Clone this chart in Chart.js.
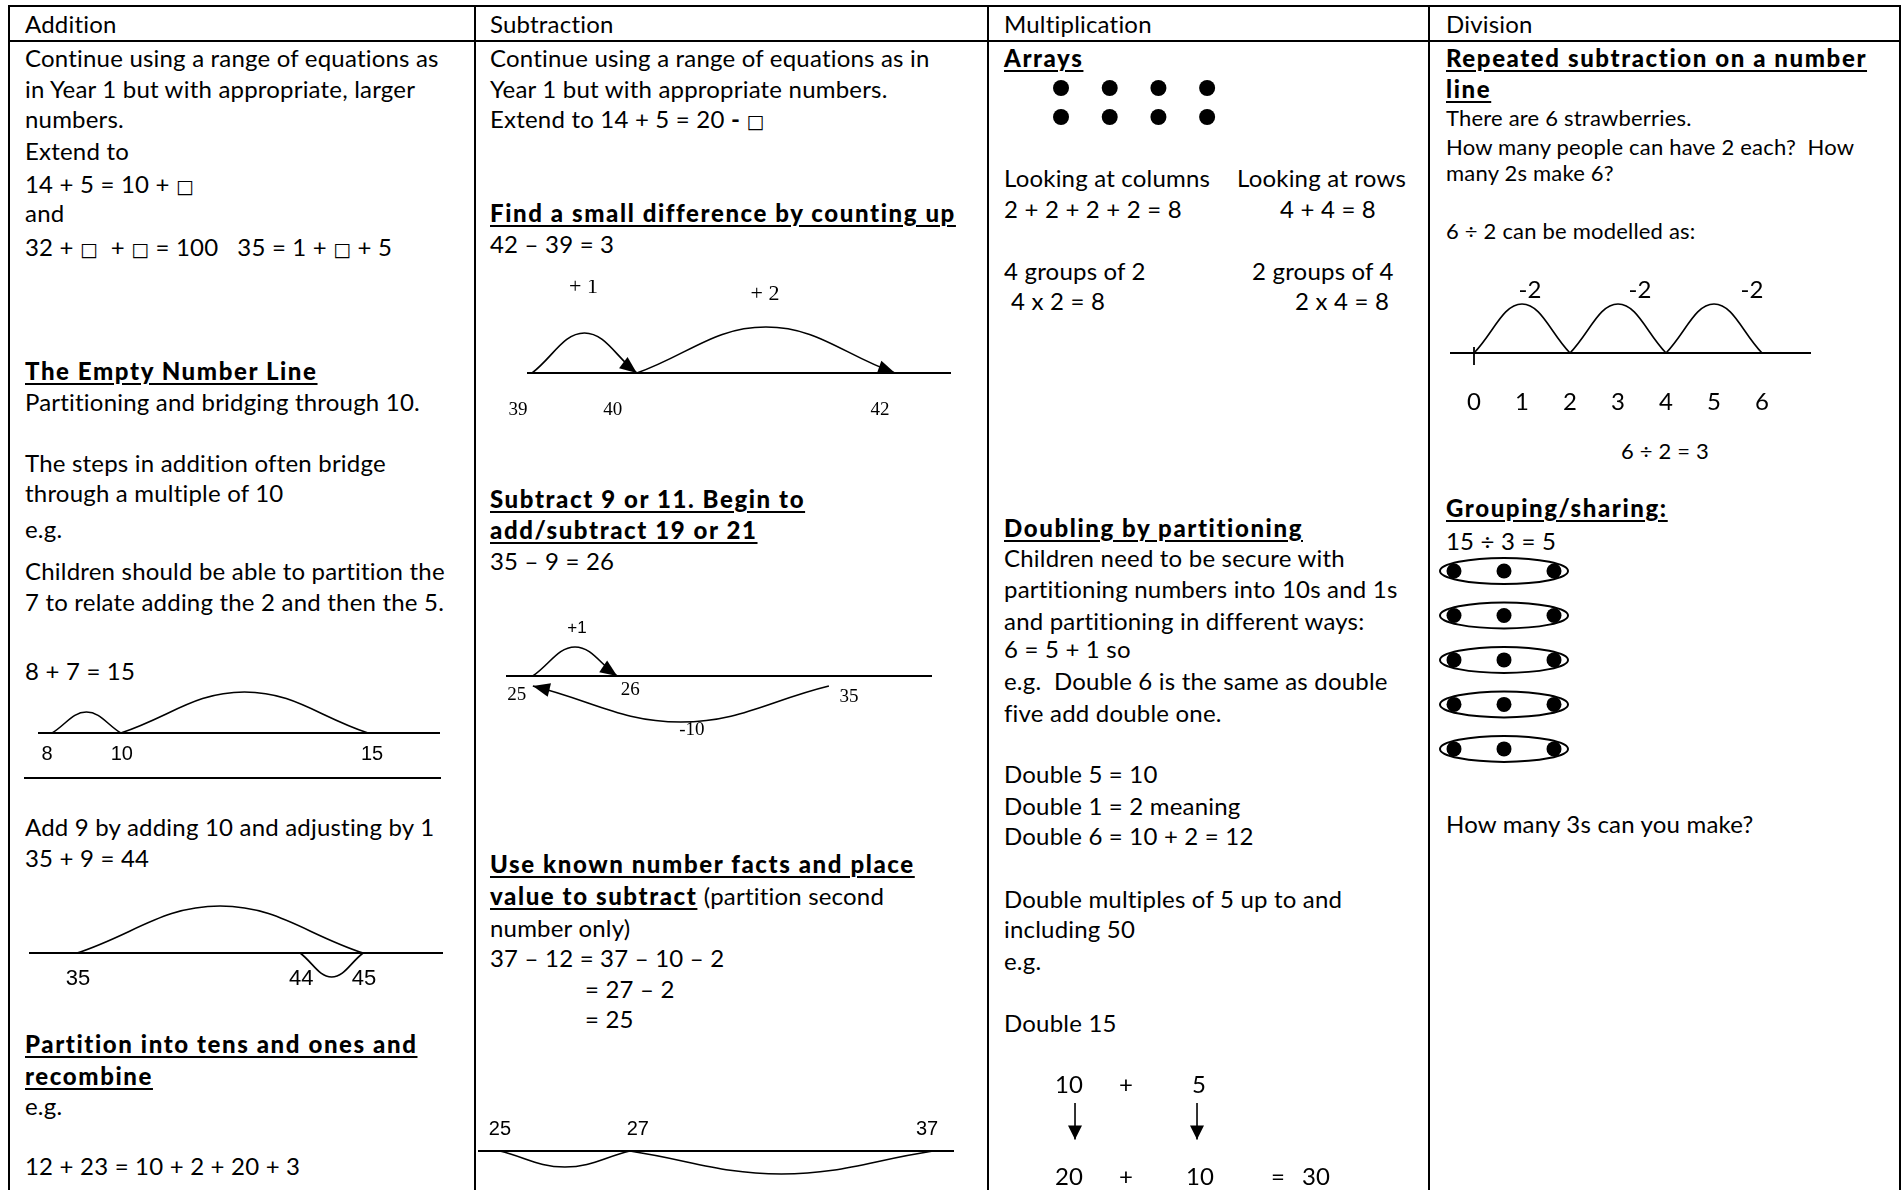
<!DOCTYPE html>
<html>
<head>
<meta charset="utf-8">
<title>Calculation methods</title>
<script src="https://cdn.jsdelivr.net/npm/chart.js@4.4.1/dist/chart.umd.min.js"></script>
<style>
  body { margin: 0; background: #fff; }
  #page { position: relative; width: 1903px; height: 1190px; overflow: hidden; font-family: Lato, "Noto Sans", sans-serif; color: #000; }
  .t { position: absolute; white-space: pre; font-size: 24px; line-height: 24px; letter-spacing: 0.2px; }
  .s { font-size: 22px; line-height: 22px; }
  .b { font-weight: 900; letter-spacing: 1.6px; text-decoration: underline; text-decoration-thickness: 2px; text-underline-offset: 3px; }
  .c { transform: translateX(-50%); }
  .sq { font-family: "DejaVu Sans", sans-serif; font-size: 19px; line-height: 0; letter-spacing: 0; }
  .rule { position: absolute; background: #000; }
  .box { position: absolute; }
</style>
</head>
<body>
<div id="page"></div>
<script>
// =========================
// DATA
// =========================
// addition
const addMarksA = [8, 10, 15];
const addJumpsA = [[8, 10], [10, 15]];
const addMarksB = [35, 44, 45];
const addJumpsB = [[35, 45], [45, 44]];

// subtraction
const subMarksA = [39, 40, 42];
const subJumpsA = [[39, 40], [40, 42]];
const subJumpTextA = ["+ 1", "+ 2"];
const subMarksB = [25, 26, 35];
const subJumpsB = [[25, 26], [35, 25]];
const subJumpTextB = ["+1", "-10"];
const subMarksC = [25, 27, 37];
const subJumpsC = [[37, 27], [27, 25]];

// multiplication
const arrayCols = [1, 2, 3, 4];
const arrayRows = [1, 2];
const doubleParts = [10, 5];
const doubledParts = [20, 10];
const doubleTotal = 30;

// division
const divMarks = [0, 1, 2, 3, 4, 5, 6];
const divJumps = [[6, 4], [4, 2], [2, 0]];
const divJumpText = ["-2", "-2", "-2"];
const shareGroups = [1, 2, 3, 4, 5];
const shareDots = [1, 2, 3];

// =========================
// PAGE TEXT
// =========================
const page = document.getElementById("page");
const SQ = '<span class="sq">□</span>';

function put(x, y, html, cls) {
  const el = document.createElement("div");
  el.className = "t" + (cls ? " " + cls : "");
  page.appendChild(el);
  el.innerHTML = html;
  const size = parseFloat(getComputedStyle(el).fontSize);
  el.style.left = x + "px";
  el.style.top = (y - size * 0.887) + "px";
}

function rule(x, y, w, h) {
  const el = document.createElement("div");
  el.className = "rule";
  el.style.cssText = `left:${x}px;top:${y}px;width:${w}px;height:${h}px`;
  page.appendChild(el);
}

// table frame
rule(8, 5, 1893, 2);
rule(8, 40, 1893, 2);
[8, 474, 987, 1428, 1899].forEach(x => rule(x, 5, 2, 1190));

put(25, 33, "Addition");
put(490, 33, "Subtraction");
put(1004, 33, "Multiplication");
put(1446, 33, "Division");

// addition
[
  [67, "Continue using a range of equations as"],
  [98, "in Year 1 but with appropriate, larger"],
  [128, "numbers."],
  [160, "Extend to"],
  [193, "14 + 5 = 10 + " + SQ],
  [222, "and"],
  [256, "32 + " + SQ + "  + " + SQ + " = 100   35 = 1 + " + SQ + " + 5"],
  [380, "The Empty Number Line", "b"],
  [411, "Partitioning and bridging through 10."],
  [472, "The steps in addition often bridge"],
  [502, "through a multiple of 10"],
  [538, "e.g."],
  [580, "Children should be able to partition the"],
  [611, "7 to relate adding the 2 and then the 5."],
  [680, "8 + 7 = 15"],
  [836, "Add 9 by adding 10 and adjusting by 1"],
  [867, "35 + 9 = 44"],
  [1053, "Partition into tens and ones and", "b"],
  [1085, "recombine", "b"],
  [1115, "e.g."],
  [1175, "12 + 23 = 10 + 2 + 20 + 3"]
].forEach(r => put(25, r[0], r[1], r[2]));
rule(24, 777, 417, 2);

// subtraction
[
  [67, "Continue using a range of equations as in"],
  [98, "Year 1 but with appropriate numbers."],
  [128, "Extend to 14 + 5 = 20 <b>-</b> " + SQ],
  [222, "Find a small difference by counting up", "b"],
  [253, "42 – 39 = 3"],
  [508, "Subtract 9 or 11. Begin to", "b"],
  [539, "add/subtract 19 or 21", "b"],
  [570, "35 – 9 = 26"],
  [873, "Use known number facts and place", "b"],
  [905, '<span class="b">value to subtract</span> (partition second'],
  [937, "number only)"],
  [967, "37 – 12 = 37 – 10 – 2"]
].forEach(r => put(490, r[0], r[1], r[2]));
put(585, 998, "= 27 – 2");
put(585, 1028, "= 25");

// multiplication
[
  [67, "Arrays", "b"],
  [187, "Looking at columns"],
  [218, "2 + 2 + 2 + 2 = 8"],
  [280, "4 groups of 2"],
  [537, "Doubling by partitioning", "b"],
  [567, "Children need to be secure with"],
  [598, "partitioning numbers into 10s and 1s"],
  [630, "and partitioning in different ways:"],
  [658, "6 = 5 + 1 so"],
  [690, "e.g.  Double 6 is the same as double"],
  [722, "five add double one."],
  [783, "Double 5 = 10"],
  [815, "Double 1 = 2 meaning"],
  [845, "Double 6 = 10 + 2 = 12"],
  [908, "Double multiples of 5 up to and"],
  [938, "including 50"],
  [970, "e.g."],
  [1032, "Double 15"]
].forEach(r => put(1004, r[0], r[1], r[2]));
put(1237, 187, "Looking at rows");
put(1280, 218, "4 + 4 = 8");
put(1252, 280, "2 groups of 4");
put(1011, 310, "4 x 2 = 8");
put(1295, 310, "2 x 4 = 8");

// division
[
  [67, "Repeated subtraction on a number", "b"],
  [98, "line", "b"],
  [127, "There are 6 strawberries.", "s"],
  [156, "How many people can have 2 each?  How", "s"],
  [182, "many 2s make 6?", "s"],
  [240, "6 ÷ 2 can be modelled as:", "s"],
  [517, "Grouping/sharing:", "b"],
  [550, "15 ÷ 3 = 5"],
  [833, "How many 3s can you make?"]
].forEach(r => put(1446, r[0], r[1], r[2]));
put(1665, 460, "6 ÷ 2 = 3", "s c");

// =========================
// SKETCH SCALE (empty number lines are not drawn to scale)
// =========================
function fracOf(a, v) {
  let i = 1;
  while (i < a.length - 1 && v > a[i][0]) i++;
  return a[i - 1][1] + (v - a[i - 1][0]) * (a[i][1] - a[i - 1][1]) / (a[i][0] - a[i - 1][0]);
}
function valOf(a, f) {
  let i = 1;
  while (i < a.length - 1 && f > a[i][1]) i++;
  return a[i - 1][0] + (f - a[i - 1][1]) * (a[i][0] - a[i - 1][0]) / (a[i][1] - a[i - 1][1]);
}
function midOf(a, p, q) {
  return valOf(a, (fracOf(a, p) + fracOf(a, q)) / 2);
}

const LinearScale = Chart.LinearScale || Chart.registry.getScale("linear");
class SketchScale extends LinearScale {
  getPixelForValue(value) {
    return this.getPixelForDecimal(fracOf(this.options.anchors, value));
  }
}
SketchScale.id = "sketch";
SketchScale.defaults = {};
Chart.register(SketchScale);

// =========================
// HELPERS
// =========================
const INK = "#000";
const SERIF = '"Liberation Serif", "DejaVu Serif", serif';
const SANS = '"Liberation Sans", Arial, sans-serif';
const GILL = 'Lato, "Noto Sans", sans-serif';
const PAD = 30;

function straight(a, y) {
  return {
    type: "line",
    data: [{ x: a[0][0], y: y || 0 }, { x: a[a.length - 1][0], y: y || 0 }],
    borderColor: INK, borderWidth: 1.8, pointRadius: 0, clip: false
  };
}

function arc(a, jump, lift, opt) {
  opt = opt || {};
  const end = opt.end || 0;
  return {
    type: "line",
    data: [{ x: jump[0], y: end }, { x: midOf(a, jump[0], jump[1]), y: lift }, { x: jump[1], y: end }],
    borderColor: INK, borderWidth: 1.6, tension: 0.4, clip: false,
    pointRadius: 0,
    arrow: !!opt.arrow
  };
}

// filled arrowhead at the end of a jump, along the curve's end tangent
const arrowHeads = {
  id: "arrowHeads",
  afterDatasetsDraw(chart) {
    const { ctx } = chart;
    ctx.save();
    ctx.fillStyle = INK;
    chart.data.datasets.forEach((ds, i) => {
      if (!ds.arrow) return;
      const pts = chart.getDatasetMeta(i).data;
      const end = pts[pts.length - 1], prev = pts[pts.length - 2];
      const fx = end.cp1x != null ? end.cp1x : prev.x;
      const fy = end.cp1y != null ? end.cp1y : prev.y;
      const ang = Math.atan2(end.y - fy, end.x - fx);
      const len = ds.headLength || 17, half = ds.headWidth || 7;
      ctx.beginPath();
      ctx.moveTo(end.x, end.y);
      ctx.lineTo(end.x - len * Math.cos(ang) + half * Math.sin(ang), end.y - len * Math.sin(ang) - half * Math.cos(ang));
      ctx.lineTo(end.x - len * Math.cos(ang) - half * Math.sin(ang), end.y - len * Math.sin(ang) + half * Math.cos(ang));
      ctx.closePath();
      ctx.fill();
    });
    ctx.restore();
  }
};

function textPlugin(items) {
  return {
    id: "sketchText",
    afterDatasetsDraw(chart) {
      const { ctx } = chart;
      const x = chart.scales.x, y = chart.scales.y;
      ctx.save();
      ctx.fillStyle = INK;
      ctx.textAlign = "center";
      ctx.textBaseline = "alphabetic";
      items.forEach(it => {
        ctx.font = it.font;
        ctx.fillText(it.text, x.getPixelForValue(it.x) + (it.dx || 0), y.getPixelForValue(it.y));
      });
      ctx.restore();
    }
  };
}

function sketch(box, anchors, yRange, datasets, texts, extra) {
  const wrap = document.createElement("div");
  wrap.className = "box";
  wrap.style.cssText = `left:${box[0] - PAD}px;top:${box[1]}px;width:${box[2] + 2 * PAD}px;height:${box[3]}px`;
  const canvas = document.createElement("canvas");
  canvas.width = box[2] + 2 * PAD;
  canvas.height = box[3];
  wrap.appendChild(canvas);
  page.appendChild(wrap);

  return new Chart(canvas, {
    type: "scatter",
    data: { datasets: datasets },
    options: {
      responsive: false,
      animation: false,
      events: [],
      layout: { autoPadding: false, padding: { left: PAD, right: PAD, top: 0, bottom: 0 } },
      plugins: { legend: { display: false }, tooltip: { enabled: false } },
      scales: {
        x: { type: "sketch", anchors: anchors, min: anchors[0][0], max: anchors[anchors.length - 1][0], display: false },
        y: { type: "linear", min: yRange[0], max: yRange[1], reverse: !!yRange[2], display: false }
      }
    },
    plugins: [arrowHeads, textPlugin(texts || [])].concat(extra || [])
  });
}

function markTexts(marks, y, font, dx) {
  return marks.map((m, i) => ({ text: String(m), x: m, y: Array.isArray(y) ? y[i] : y, font: font, dx: dx ? dx[i] : 0 }));
}

function jumpTexts(a, jumps, labels, y, font, dx) {
  return jumps.map((j, i) => ({
    text: labels[i], x: midOf(a, j[0], j[1]),
    y: Array.isArray(y) ? y[i] : y,
    font: Array.isArray(font) ? font[i] : font,
    dx: dx ? dx[i] : 0
  }));
}

// =========================
// ADDITION NUMBER LINES
// =========================
const addAxisA = [[7.6, 0], [8, 0.035], [10, 0.206], [15, 0.821], [16.5, 1]];
sketch([38, 680, 402, 100], addAxisA, [-47, 53], [
  straight(addAxisA),
  arc(addAxisA, addJumpsA[0], 21),
  arc(addAxisA, addJumpsA[1], 41)
], markTexts(addMarksA, -27, "20px " + SANS, [-5, 1, 4]));

const addAxisB = [[33.06, 0], [35, 0.116], [44, 0.655], [45, 0.807], [46.27, 1]];
sketch([29, 895, 414, 105], addAxisB, [-47, 58], [
  straight(addAxisB),
  arc(addAxisB, addJumpsB[0], 47),
  arc(addAxisB, addJumpsB[1], -24)
], markTexts(addMarksB, -32, "22px " + SANS, [1, 1, 1]));

// =========================
// SUBTRACTION NUMBER LINES
// =========================
const subAxisA = [[38.95, 0], [39, 0.012], [40, 0.259], [42, 0.868], [42.43, 1]];
sketch([527, 280, 424, 145], subAxisA, [-52, 93], [
  straight(subAxisA),
  arc(subAxisA, subJumpsA[0], 40, { arrow: true }),
  arc(subAxisA, subJumpsA[1], 46, { arrow: true })
], markTexts(subMarksA, -42, "19px " + SERIF, [-14, -24, -15])
  .concat(jumpTexts(subAxisA, subJumpsA, subJumpTextA, [80, 73], "22px " + SERIF, [-1, -1])));

const subAxisB = [[24.68, 0], [25, 0.063], [26, 0.261], [35, 0.758], [39.4, 1]];
sketch([506, 620, 426, 125], subAxisB, [-69, 56], [
  straight(subAxisB),
  arc(subAxisB, subJumpsB[0], 29, { arrow: true }),
  arc(subAxisB, subJumpsB[1], -46, { arrow: true, end: -10 })
], markTexts(subMarksB, [-24, -19, -26], "19px " + SERIF, [-16, 13, 20])
  .concat(jumpTexts(subAxisB, subJumpsB, subJumpTextB, [43, -59], ["17px " + SANS, "19px " + SERIF], [2, 11])));

const subAxisC = [[24.66, 0], [25, 0.046], [27, 0.319], [37, 0.956], [37.7, 1]];
sketch([478, 1110, 476, 80], subAxisC, [-39, 41], [
  straight(subAxisC),
  arc(subAxisC, subJumpsC[0], -23),
  arc(subAxisC, subJumpsC[1], -16)
], markTexts(subMarksC, 16, "20px " + SANS, [0, 8, -6]));

// =========================
// MULTIPLICATION
// =========================
const arrayAxis = [[0.363, 0], [4.675, 1]];
sketch([1030, 70, 210, 65], arrayAxis, [0.38, 2.62], [{
  data: arrayRows.flatMap(r => arrayCols.map(c => ({ x: c, y: r }))),
  pointRadius: 8, pointBackgroundColor: INK, pointBorderWidth: 0, clip: false
}]);

const doubleAxis = [[-0.287, 0], [2.172, 1]];
sketch([1040, 1060, 300, 130], doubleAxis, [-2.107, 2.536],
  doubleParts.map((p, i) => ({
    type: "line",
    data: [{ x: i, y: 1 }, { x: i, y: -0.3 }],
    borderColor: INK, borderWidth: 1.6, clip: false, pointRadius: 0,
    arrow: true, headLength: 14, headWidth: 7
  })),
  doubleParts.map((p, i) => ({ text: String(p), x: i, y: 1.357, font: "24px " + GILL, dx: i ? 2 : -6 }))
    .concat(doubledParts.map((p, i) => ({ text: String(p), x: i, y: -1.93, font: "24px " + GILL, dx: i ? 3 : -6 })))
    .concat([
      { text: "+", x: 0.418, y: 1.357, font: "24px " + GILL },
      { text: "+", x: 0.418, y: -1.93, font: "24px " + GILL },
      { text: "=", x: 1.664, y: -1.93, font: "24px " + GILL },
      { text: String(doubleTotal), x: 1.975, y: -1.93, font: "24px " + GILL }
    ]));

// =========================
// DIVISION
// =========================
const divAxis = [[-0.5, 0], [7.02, 1]];
sketch([1450, 280, 361, 140], divAxis, [-67, 73], [
  straight(divAxis),
  { type: "line", data: [{ x: 0, y: 6 }, { x: 0, y: -12 }], borderColor: INK, borderWidth: 1.8, pointRadius: 0, clip: false }
].concat(divJumps.map(j => arc(divAxis, j, 49))),
  markTexts(divMarks, -57, "24px " + GILL)
    .concat(jumpTexts(divAxis, divJumps, divJumpText, 55, "24px " + GILL, [38, 22, 8])));

const shareAxis = [[0.56, 0], [3.36, 1]];
const ellipses = {
  id: "groupRings",
  beforeDatasetsDraw(chart) {
    const { ctx } = chart;
    const x = chart.scales.x, y = chart.scales.y;
    const first = shareDots[0], last = shareDots[shareDots.length - 1];
    const cx = x.getPixelForValue((first + last) / 2);
    const rx = (x.getPixelForValue(last) - x.getPixelForValue(first)) / 2 + 14;
    ctx.save();
    ctx.strokeStyle = INK;
    ctx.lineWidth = 2;
    shareGroups.forEach(g => {
      ctx.beginPath();
      ctx.ellipse(cx, y.getPixelForValue(g), rx, 13, 0, 0, Math.PI * 2);
      ctx.stroke();
    });
    ctx.restore();
  }
};
sketch([1432, 553, 140, 215], shareAxis, [0.596, 5.43, true], [{
  data: shareGroups.flatMap(g => shareDots.map(d => ({ x: d, y: g }))),
  pointRadius: 7.5, pointBackgroundColor: INK, pointBorderWidth: 0, clip: false
}], [], [ellipses]);
</script>
</body>
</html>
